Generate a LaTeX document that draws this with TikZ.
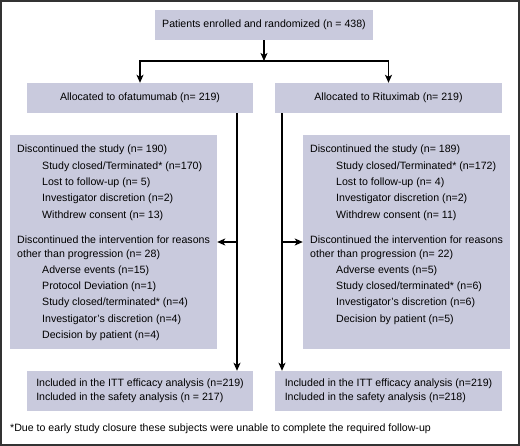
\documentclass[tikz,border=0pt]{standalone}
\usepackage{fontspec}
\setmainfont{Liberation Sans}
\usetikzlibrary{arrows.meta}
\definecolor{boxfill}{RGB}{201,202,221}
\begin{document}
\begin{tikzpicture}[x=1pt,y=-1pt,
  every node/.style={font=\fontsize{10.6}{16.3}\selectfont},
  box/.style={fill=boxfill, draw=none, inner sep=0pt, minimum height=30pt},
  txt/.style={align=left, inner sep=0pt, anchor=north west},
  arr/.style={line width=1.3pt, -{Stealth[length=8pt,width=7pt,inset=2pt]}},
  ln/.style={line width=1.3pt}]
\useasboundingbox (0,0) rectangle (520,446);
\draw[line width=1.6pt, draw=black!80] (0.8,0.8) rectangle (519.2,445.2);

% boxes
\node[box, minimum width=218pt] (top) at (264,25) {Patients enrolled and randomized (n = 438)};
\node[box, minimum width=226pt] (allocL) at (140,98) {Allocated to ofatumumab (n= 219)};
\node[box, minimum width=227pt] (allocR) at (388.5,98) {Allocated to Rituximab (n= 219)};
\node[box, minimum width=207pt, minimum height=214pt] (discL) at (113.5,242) {};
\node[box, minimum width=207pt, minimum height=214pt] (discR) at (406.5,242) {};
\node[box, minimum width=226pt, minimum height=40pt, align=left, font=\fontsize{10.6}{14}\selectfont] (ittL) at (140,391)
  {Included in the ITT efficacy analysis (n=219)\\Included in the safety analysis (n = 217)};
\node[box, minimum width=227pt, minimum height=40pt, align=left, font=\fontsize{10.6}{14}\selectfont] (ittR) at (388.5,391)
  {Included in the ITT efficacy analysis (n=219)\\Included in the safety analysis (n=218)};

% box texts
\node[txt] (discLtext) at (17,145) {Discontinued the study (n= 190)\\
\hspace*{25pt}Study closed/Terminated* (n=170)\\
\hspace*{25pt}Lost to follow-up (n= 5)\\
\hspace*{25pt}Investigator discretion (n=2)\\
\hspace*{25pt}Withdrew consent (n= 13)\\[8.7pt]
Discontinued the intervention for reasons\\[-2.3pt]
other than progression (n= 28)\\
\hspace*{25pt}Adverse events (n=15)\\
\hspace*{25pt}Protocol Deviation (n=1)\\
\hspace*{25pt}Study closed/terminated* (n=4)\\
\hspace*{25pt}Investigator's discretion (n=4)\\
\hspace*{25pt}Decision by patient (n=4)};

\node[txt] (discRtext) at (310,145) {Discontinued the study (n= 189)\\
\hspace*{26pt}Study closed/Terminated* (n=172)\\
\hspace*{26pt}Lost to follow-up (n= 4)\\
\hspace*{26pt}Investigator discretion (n=2)\\
\hspace*{26pt}Withdrew consent (n= 11)\\[8.7pt]
Discontinued the intervention for reasons\\[-2.3pt]
other than progression (n= 22)\\
\hspace*{26pt}Adverse events (n=5)\\
\hspace*{26pt}Study closed/terminated* (n=6)\\
\hspace*{26pt}Investigator's discretion (n=6)\\
\hspace*{26pt}Decision by patient (n=5)};

\node[anchor=west, inner sep=0pt] (foot) at (10,429) {*Due to early study closure these subjects were unable to complete the required follow-up};

% connectors
\coordinate (split) at (264,61);
\coordinate (lvx) at (237,0);
\coordinate (rvx) at (282,0);
\draw[arr] (top) -- (split);
\draw[arr] (split) -| (allocL.north);
\draw[arr] (split) -| (allocR.north);
\draw[arr] (allocL.south -| lvx) -- (ittL.north -| lvx);
\draw[arr] (allocR.south -| rvx) -- (ittR.north -| rvx);
\draw[arr] (lvx |- discL.east) -- (discL.east);
\draw[arr] (rvx |- discR.west) -- (discR.west);
\end{tikzpicture}
\end{document}
